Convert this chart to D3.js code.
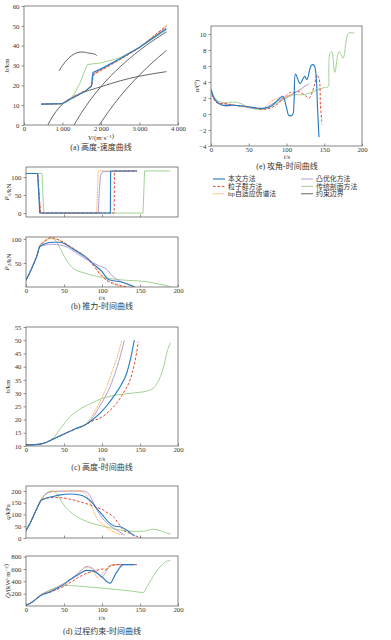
<!DOCTYPE html>
<html><head><meta charset="utf-8">
<script src="https://cdn.jsdelivr.net/npm/d3@7"></script>
<style>
body{margin:0;background:#fff}
svg{display:block}
text{font-family:"Liberation Serif","Noto Sans CJK SC",serif;fill:#333}
.cap{font-family:"Liberation Serif","Noto Sans CJK SC",serif;font-size:8px}
</style>
</head><body><svg id="c" width="391" height="640"></svg>
<script>
// ---------------- DATA ----------------
// (a) altitude vs velocity  [V (m/s), h (km)]
const hvBlue   = [[450,10.5],[1000,10.8],[1200,13],[1400,15],[1600,17.2],[1750,19.5],[1770,22],[1790,26.5],[2000,28.3],[2500,33.5],[3000,39.2],[3700,48.5]];
const hvRed    = [[450,10.5],[1000,10.8],[1100,12.3],[1200,13],[1300,14.5],[1400,15],[1500,16.5],[1600,17],[1700,19],[1760,20],[1790,24],[1810,25.5],[2000,27.5],[2500,33],[3000,39],[3700,50]];
const hvOrange = [[450,10.5],[1000,10.8],[1200,13.2],[1400,15.5],[1600,17.5],[1750,19.8],[1790,25],[2000,27.8],[2500,33.2],[3000,39.2],[3700,50.2]];
const hvPurple = [[450,10.5],[1000,10.8],[1200,13],[1400,15.2],[1600,17.3],[1750,19.6],[1780,25.5],[2000,28],[2500,33.3],[3000,39],[3700,49.2]];
const hvGreen  = [[450,10.5],[1000,10.6],[1150,12],[1300,15.5],[1450,21],[1550,26],[1650,30.5],[2000,31.3],[2500,34],[3000,39],[3700,48]];
const hvBound1 = [[620,0],[750,4.5],[900,8.5],[1000,10.5],[1300,14.5],[1700,17.5],[2000,19.3],[2500,22.3],[3000,24.6],[3700,26.9]];
const hvBound2 = [[1300,0],[1400,3.3],[1600,9.3],[1800,14.6],[2000,19.4],[2500,29.4],[3000,37.6],[3700,47]];
const hvBound3 = [[1956,0],[2000,1.3],[2200,6.9],[2500,14.5],[3000,25.2],[3500,34.3],[3700,37.6]];
const hvBound4 = [[909,27.2],[1000,30],[1150,33.5],[1300,35.8],[1455,36.8],[1600,36.6],[1700,36.2],[1780,36.0],[1850,35.6],[1895,34.8]];
const vTicks = [0,1000,2000,3000,4000];
const hTicksA = [0,10,20,30,40,50,60];

// (e) angle of attack vs time [t (s), alpha (deg)]
const aBlue   = [[0,3.1],[3,2.2],[6,1.7],[10,1.35],[15,1.1],[20,1.05],[30,1.1],[40,1.0],[50,0.9],[60,0.75],[70,0.7],[80,1.0],[88,1.7],[95,2.2],[100,0.8],[103,-0.15],[108,-0.1],[110,1.5],[112,5],[118,3.8],[124,4.7],[127,4.3],[133,6.1],[136.5,6.1],[139,5.0],[141,1.0],[143,-2.9]];
const aRed    = [[0,3.0],[3,2.0],[8,1.4],[15,1.3],[20,1.3],[25,1.2],[30,1.1],[40,1.0],[50,0.9],[60,0.7],[70,0.6],[80,0.8],[90,1.4],[95,2.0],[100,2.3],[105,2.7],[110,2.7],[115,2.8],[120,2.6],[125,2.3],[130,2.0],[135,3.0],[138,4.0],[140,4.9],[143,4.5],[145,1.0],[146.6,-0.8],[147,-1.3]];
const aOrange = [[0,2.9],[5,1.7],[10,1.3],[20,1.0],[30,1.1],[40,1.0],[50,0.8],[60,0.7],[70,0.8],[80,1.6],[90,2.0],[100,2.2],[110,2.6],[120,3.1],[125,3.5]];
const aPurple = [[0,2.9],[5,1.9],[10,1.4],[20,1.2],[30,1.1],[40,1.0],[50,0.8],[60,0.7],[70,0.7],[80,1.2],[90,1.7],[100,2.1],[110,2.6],[120,3.2],[130,3.8]];
const aGreen  = [[0,3],[5,2],[10,1.6],[20,1.4],[30,1.5],[40,1.3],[50,0.8],[60,0.6],[70,0.6],[80,1.0],[90,1.5],[100,2.0],[110,2.4],[120,2.4],[130,2.6],[140,3.0],[150,3.3],[155,3.4],[156,5.5],[157.6,7.6],[160,7.8],[164,5.2],[169.5,7.8],[175,7.0],[182,10.1],[190,10.1]];
const tTicks = [0,50,100,150,200];
const aTicks = [-4,-2,0,2,4,6,8,10];

// (b) thrust P1, P2 vs time [t, kN]
const p1Blue   = [[0,110],[15.5,110],[18,0],[111,0],[111.3,117],[146,117]];
const p1Red    = [[0,110],[15.5,110],[19,0],[116,0],[116.3,117],[146,117]];
const p1Orange = [[0,110],[15,110],[19,0],[93,0],[95,117],[146,117]];
const p1Purple = [[0,110],[15,110],[19,0],[95,0],[96.5,60],[98,105],[101,115],[146,117]];
const p1Green  = [[0,110],[21,110],[23.5,0],[154,0],[156,117],[190,117]];
const p1Ticks = [0,50,100];
const p2Blue   = [[0,14],[5,30],[10,48],[15,68],[18,84],[25,90],[35,93],[45,93],[55,86],[65,76],[80,60],[90,46],[100,32],[108,16],[115,13],[124,11],[137,4],[143,0]];
const p2Red    = [[0,14],[5,30],[10,48],[15,68],[18,85],[25,95],[33,103],[40,100],[50,92],[60,82],[70,72],[80,60],[90,42],[100,22],[108,12],[115,7.7],[125,3],[135,0]];
const p2Orange = [[0,14],[5,30],[10,48],[15,68],[18,85],[25,96],[33,101],[40,99],[50,93],[60,83],[70,73],[80,63],[90,45],[100,25],[110,10],[120,3],[130,0]];
const p2Purple = [[0,14],[5,30],[10,48],[15,68],[18,83],[25,87],[35,89],[45,87],[53,84],[65,72],[80,57],[95,45],[106,37],[115,21],[124,12],[132,7],[140,0]];
const p2Green  = [[0,14],[5,30],[10,48],[15,68],[18,85],[25,97],[32,102],[38,98],[45,80],[53,56],[62,39],[75,30],[97,21],[124,15],[159,11],[175,6],[190,1]];
const p2Ticks = [50,100];

// (c) altitude vs time [t, km]
const htBlue   = [[0,10.4],[10,10.5],[20,10.8],[30,11.8],[35,12.5],[50,14.5],[65,16.5],[78,18],[88,20],[97.4,22.4],[107,25.5],[115,28.6],[125,33],[132.5,37.5],[138,43.5],[142.5,50]];
const htRed    = [[0,10.4],[10,10.5],[20,10.8],[30,11.8],[35,12.5],[50,14.5],[65,16.5],[78,18],[88,19.5],[97.4,20.5],[108,22.8],[119,26.1],[130,31],[137,35],[143,41.5],[147.8,49.4]];
const htOrange = [[0,10.4],[10,10.5],[20,10.8],[30,11.8],[35,12.5],[50,14.5],[65,16.5],[78,18],[85,20.5],[95,25.5],[106,32.4],[115,39.5],[121,44.5],[126,50]];
const htPurple = [[0,10.4],[10,10.5],[20,10.8],[30,11.8],[35,12.5],[50,14.5],[65,16.5],[78,18],[87,20.5],[98,25.5],[110.5,32.4],[120,40],[125,45],[129.4,50]];
const htGreen  = [[0,10.4],[10,10.5],[20,10.8],[30,11.8],[36,13],[45,16.5],[58,21.1],[70,23.8],[85,26],[100,28],[120,29.3],[140,30],[159,30.8],[168,32],[175,35],[182,41],[186,46],[190,49]];
const hTicksC = [10,15,20,25,30,35,40,45,50,55];

// (d) dynamic pressure q [t, kPa] and heat flux Q [t, kW/m2]
const qBlue   = [[0,32],[5,60],[10,95],[15,130],[20,160],[25,168],[35,176],[45,183],[58,187],[71,183],[80,170],[87,150],[93,126],[100,100],[110.5,62],[117,50],[124,48],[135,28],[143,8]];
const qRed    = [[0,32],[5,60],[10,95],[15,130],[20,160],[25,167],[36,172],[46,171],[58,165],[70,155],[85,140],[95,128],[101.7,119],[108,105],[115,91],[122,60],[128,34],[135,22],[145,8],[152,0]];
const qOrange = [[0,32],[5,60],[10,95],[15,130],[20,163],[25,185],[30,195],[36,199],[50,200],[65,200],[72,199],[80,180],[87,130],[93,84],[100,60],[110.5,34],[120,20],[128,12]];
const qPurple = [[0,32],[5,60],[10,95],[15,130],[20,163],[25,183],[30,193],[36,197],[50,199],[70,200],[77,199],[84,180],[90,140],[98,95],[108,60],[119,34],[125,22],[130,12]];
const qGreen  = [[0,32],[5,60],[10,95],[15,130],[20,165],[25,185],[30,197],[35,200],[40,190],[45,165],[50,140],[58,112],[70,85],[80,70],[95,55],[110,44],[124,34],[135,30],[146,28],[155,29],[167,37],[175,33],[182,24],[190,17]];
const qTicks = [0,50,100,150,200];
const QBlue   = [[0,16],[5,40],[10,80],[15,130],[20,175],[30,220],[40,280],[50,350],[58,424],[70,520],[80,578],[89,565],[100,470],[110.5,370],[118,520],[128,670],[143,670]];
const QRed    = [[0,16],[5,40],[10,80],[15,130],[20,175],[30,215],[40,265],[50,320],[60,395],[71,478],[80,530],[93,578],[101.7,600],[105,590],[110.5,650],[120,670],[147,670]];
const QOrange = [[0,16],[5,40],[10,80],[15,130],[20,180],[30,240],[40,300],[50,370],[60,450],[70,550],[80,630],[87,600],[95,452],[100,520],[110,650],[115,665],[128,670]];
const QPurple = [[0,16],[5,40],[10,80],[15,130],[20,180],[30,235],[40,295],[50,365],[60,445],[70,545],[80,640],[90,590],[99.6,468],[106,570],[112,660],[118,670],[130,670]];
const QGreen  = [[0,16],[5,40],[10,80],[15,130],[20,185],[30,250],[40,300],[49,335],[60,330],[80,310],[100,290],[120,265],[140,240],[154,218],[160,330],[170,530],[180,680],[185,724],[190,735]];
const QTicks = [200,400,600,800];

const legendNames = ["本文方法","粒子群方法","hp自适应伪谱法","凸优化方法","传统剖面方法","约束边界"];
const captions = ["(a) 高度-速度曲线","(b) 推力-时间曲线","(c) 高度-时间曲线","(d) 过程约束-时间曲线","(e) 攻角-时间曲线"];

// ---------------- STYLE ----------------
const ST = {
  blue:  {c:"#2a7cc2", w:1.15, d:null},
  red:   {c:"#e5472f", w:1.0, d:"2.6,1.8"},
  orange:{c:"#f5ad55", w:1.0, d:"1.5,0.9"},
  purple:{c:"#b39cd9", w:1.0, d:null},
  green: {c:"#a2d493", w:1.0, d:null},
  gray:  {c:"#555555", w:0.9, d:null}
};
const FS = "6.8px";

const svg = d3.select("#c");
const defs = svg.append("defs");
let clipN = 0;

function panel(o){
  const x = d3.scaleLinear().domain(o.xd).range([o.x0,o.x1]);
  const y = d3.scaleLinear().domain(o.yd).range([o.y1,o.y0]);
  const id = "clip"+(clipN++);
  defs.append("clipPath").attr("id",id).append("rect")
    .attr("x",o.x0).attr("y",o.y0).attr("width",o.x1-o.x0).attr("height",o.y1-o.y0);
  const g = svg.append("g");
  const lines = g.append("g").attr("clip-path",`url(#${id})`);
  o.series.forEach(s=>{
    const st = ST[s.k];
    const gen = d3.line().x(d=>x(d[0])).y(d=>y(d[1])).curve(s.curve||d3.curveMonotoneX);
    const p = lines.append("path").attr("d",gen(s.d)).attr("fill","none")
      .attr("stroke",st.c).attr("stroke-width",st.w).attr("stroke-linejoin","round");
    if(st.d) p.attr("stroke-dasharray",st.d);
  });
  g.append("rect").attr("x",o.x0).attr("y",o.y0).attr("width",o.x1-o.x0).attr("height",o.y1-o.y0)
    .attr("fill","none").attr("stroke","#666").attr("stroke-width",0.8);
  const ya = g.append("g").attr("transform",`translate(${o.x0},0)`)
    .call(d3.axisLeft(y).tickValues(o.yt).tickSize(2.5).tickPadding(2).tickFormat(o.yf||d3.format("d")));
  const xa = g.append("g").attr("transform",`translate(0,${o.y1})`)
    .call(d3.axisBottom(x).tickValues(o.xt).tickSizeInner(-2.5).tickSizeOuter(0).tickPadding(1.3)
      .tickFormat(o.xlab? (o.xf||d3.format("d")) : ()=>""));
  [ya,xa].forEach(a=>{
    a.select(".domain").remove();
    a.selectAll("line").attr("stroke","#666").attr("stroke-width",0.7);
    a.selectAll("text").attr("font-size",FS).attr("fill","#333")
      .attr("font-family",'"Liberation Serif",serif');
  });
  if(o.ylab){
    const t = g.append("text").attr("transform",`translate(${o.ylabX},${(o.y0+o.y1)/2}) rotate(-90)`)
      .attr("text-anchor","middle").attr("font-size",FS);
    o.ylab(t);
  }
  return {x,y,g};
}

function italicLabel(t, parts){
  parts.forEach(p=>{
    const ts = t.append("tspan").text(p[0]);
    if(p[1]==="i") ts.attr("font-style","italic");
    if(p[1]==="sub") ts.attr("font-size","5px").attr("dy","1.5");
    if(p[1]==="sup") ts.attr("font-size","5px").attr("dy","-2.5");
    if(p[1]==="reset") ts.attr("dy","0");
  });
}
function xTitle(x,y){
  svg.append("text").attr("x",x).attr("y",y).attr("text-anchor","middle").attr("font-size",FS)
    .call(t=>italicLabel(t,[["t","i"],["/s"]]));
}
function caption(x,y,s){
  svg.append("text").attr("class","cap").attr("x",x).attr("y",y).attr("text-anchor","middle").text(s);
}

const fmtK = d=> d===0 ? "0" : d3.format(",")(d).replace(",","\u2009");

// (a)
panel({x0:24,x1:178,y0:6,y1:125,xd:[0,4000],yd:[0,60],xt:vTicks,yt:hTicksA,xlab:true,xf:fmtK,
  ylabX:9, ylab:t=>italicLabel(t,[["h","i"],["/km"]]),
  series:[
    {k:"gray",d:hvBound1,curve:d3.curveMonotoneX},
    {k:"gray",d:hvBound2},{k:"gray",d:hvBound3},
    {k:"gray",d:hvBound4,curve:d3.curveCatmullRom},
    {k:"green",d:hvGreen,curve:d3.curveLinear},
    {k:"purple",d:hvPurple,curve:d3.curveLinear},
    {k:"orange",d:hvOrange,curve:d3.curveLinear},
    {k:"red",d:hvRed,curve:d3.curveLinear},
    {k:"blue",d:hvBlue,curve:d3.curveLinear}
  ]});
svg.append("text").attr("x",101).attr("y",140).attr("text-anchor","middle").attr("font-size",FS)
  .call(t=>italicLabel(t,[["V","i"],["/(m·s"],["−1","sup"],[")","reset"]]));
caption(101,150,captions[0]);

// (e)
panel({x0:211,x1:362,y0:26,y1:146,xd:[0,200],yd:[-4,11],xt:tTicks,yt:aTicks,xlab:true,
  ylabX:199, ylab:t=>italicLabel(t,[["α","i"],["/(°)"]]),
  series:[
    {k:"green",d:aGreen,curve:d3.curveCatmullRom},
    {k:"purple",d:aPurple,curve:d3.curveCatmullRom},
    {k:"orange",d:aOrange,curve:d3.curveCatmullRom},
    {k:"red",d:aRed,curve:d3.curveCatmullRom},
    {k:"blue",d:aBlue,curve:d3.curveCatmullRom}
  ]});
xTitle(287,159);
caption(287,168.5,captions[4]);

// legend
const legKeys = ["blue","red","orange","purple","green","gray"];
legKeys.forEach((k,i)=>{
  const col = Math.floor(i/3), row = i%3;
  const lx = col===0 ? 213 : 301, ly = 179 + row*7.4;
  const st = ST[k];
  const l = svg.append("line").attr("x1",lx).attr("x2",lx+12).attr("y1",ly).attr("y2",ly)
    .attr("stroke",st.c).attr("stroke-width",st.w);
  if(st.d) l.attr("stroke-dasharray",st.d);
  svg.append("text").attr("x",lx+15).attr("y",ly+2.4).attr("font-size","6.9px").text(legendNames[i]);
});

// (b) top
panel({x0:26,x1:178,y0:167,y1:217,xd:[0,200],yd:[-11,128],xt:[50,100,150],yt:p1Ticks,xlab:false,
  ylabX:9, ylab:t=>italicLabel(t,[["P","i"],["1","sub"],["/kN","reset"]]),
  series:[
    {k:"green",d:p1Green,curve:d3.curveLinear},
    {k:"purple",d:p1Purple,curve:d3.curveLinear},
    {k:"orange",d:p1Orange,curve:d3.curveLinear},
    {k:"red",d:p1Red,curve:d3.curveLinear},
    {k:"blue",d:p1Blue,curve:d3.curveLinear}
  ]});
// (b) bottom
panel({x0:26,x1:178,y0:237,y1:287,xd:[0,200],yd:[0,104],xt:tTicks,yt:p2Ticks,xlab:true,
  ylabX:9, ylab:t=>italicLabel(t,[["P","i"],["2","sub"],["/kN","reset"]]),
  series:[
    {k:"green",d:p2Green},{k:"purple",d:p2Purple},{k:"orange",d:p2Orange},{k:"red",d:p2Red},{k:"blue",d:p2Blue}
  ]});
xTitle(102,300);
caption(102,309,captions[1]);

// (c)
panel({x0:26,x1:178,y0:327,y1:446,xd:[0,200],yd:[10,55],xt:tTicks,yt:hTicksC,xlab:true,
  ylabX:10, ylab:t=>italicLabel(t,[["h","i"],["/km"]]),
  series:[
    {k:"green",d:htGreen},{k:"purple",d:htPurple},{k:"orange",d:htOrange},{k:"red",d:htRed},{k:"blue",d:htBlue}
  ]});
xTitle(102,460.5);
caption(102,470,captions[2]);

// (d) top
panel({x0:26,x1:178,y0:486,y1:538,xd:[0,200],yd:[0,221],xt:[50,100,150],yt:qTicks,xlab:false,
  ylabX:10, ylab:t=>italicLabel(t,[["q","i"],["/kPa"]]),
  series:[
    {k:"green",d:qGreen},{k:"purple",d:qPurple},{k:"orange",d:qOrange},{k:"red",d:qRed},{k:"blue",d:qBlue}
  ]});
// (d) bottom
panel({x0:26,x1:178,y0:556,y1:606,xd:[0,200],yd:[0,810],xt:tTicks,yt:QTicks,xlab:true,
  ylabX:10, ylab:t=>italicLabel(t,[["Q̇","i"],["/(kW·m"],["−2","sup"],[")","reset"]]),
  series:[
    {k:"green",d:QGreen},{k:"purple",d:QPurple},{k:"orange",d:QOrange},{k:"red",d:QRed},{k:"blue",d:QBlue}
  ]});
xTitle(102,620);
caption(102,633.5,captions[3]);
</script></body></html>
